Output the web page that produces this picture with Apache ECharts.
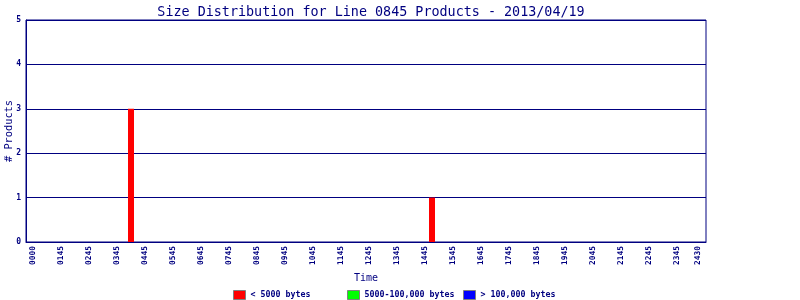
<!DOCTYPE html>
<html>
<head>
<meta charset="utf-8">
<script src="https://cdn.jsdelivr.net/npm/echarts@6/dist/echarts.min.js"></script>
<style>html,body{margin:0;padding:0;background:#fff}#c{width:800px;height:300px}</style>
</head>
<body>
<div id="c"></div>
<script>
// 15-minute bins (0..95) across the day
const titleText = 'Size Distribution for Line 0845 Products - 2013/04/19';
const tickBins = [0,4,8,12,16,20,24,28,32,36,40,44,48,52,56,60,64,68,72,76,80,84,88,92,95];
const tickLabels = ['0000','0145','0245','0345','0445','0545','0645','0745','0845','0945','1045','1145','1245','1345','1445','1545','1645','1745','1845','1945','2045','2145','2245','2345','2430'];
const seriesNames = ['< 5000 bytes','5000-100,000 bytes','> 100,000 bytes'];
const seriesColors = ['#ff0000','#00ff00','#0000ff'];
const smallBins = [14, 57];
const smallCounts = [3, 1];
const mediumBins = [];
const mediumCounts = [];
const largeBins = [];
const largeCounts = [];
const yTicks = [0,1,2,3,4,5];

const navy = '#000080';
const mono = 'DejaVu Sans Mono';
const pairs = (b, c) => b.map((x, i) => [x, c[i]]);
const allData = [pairs(smallBins, smallCounts), pairs(mediumBins, mediumCounts), pairs(largeBins, largeCounts)];
const labelMap = {};
tickBins.forEach((b, i) => labelMap[b] = tickLabels[i]);

const chart = echarts.init(document.getElementById('c'), null, {renderer: 'canvas'});
const legendLefts = [233, 347, 463];
chart.setOption({
  animation: false,
  backgroundColor: '#ffffff',
  title: {
    text: titleText, left: 366, top: 1, textAlign: 'center',
    textStyle: {fontFamily: mono, fontSize: 13.4, fontWeight: 'normal', color: navy}
  },
  legend: seriesNames.map((n, i) => ({
    data: [n], left: legendLefts[i], top: 290, itemWidth: 12, itemHeight: 9, itemGap: 4,
    textStyle: {fontFamily: mono, fontSize: 8.3, fontWeight: 'bold', color: navy},
    itemStyle: {borderColor: '#808080', borderWidth: 1},
    selectedMode: false, padding: 0, icon: 'rect'
  })),
  grid: {left: 26, top: 20, width: 680, height: 222, outerBoundsMode: 'none', containLabel: false,
    show: true, borderColor: navy, borderWidth: 1, backgroundColor: 'transparent'},
  xAxis: {
    type: 'value', min: -1, max: 96.14,
    name: 'Time', nameLocation: 'middle', nameGap: 31, nameMoveOverlap: false,
    nameTextStyle: {fontFamily: mono, fontSize: 10, color: navy, verticalAlign: 'top'},
    axisLine: {show: true, onZero: false, lineStyle: {color: navy, width: 1}},
    axisTick: {show: false},
    splitLine: {show: false},
    axisLabel: {
      customValues: tickBins, rotate: 90, margin: 4,
      fontFamily: mono, fontSize: 7.9, fontWeight: 'bold', color: navy,
      formatter: v => labelMap[v] || ''
    }
  },
  yAxis: {
    type: 'value', min: 0, max: 5, interval: 1,
    name: '# Products', nameLocation: 'middle', nameGap: 12, nameMoveOverlap: false,
    nameTextStyle: {fontFamily: mono, fontSize: 10.3, color: navy},
    axisLine: {show: true, onZero: false, lineStyle: {color: navy, width: 1}},
    axisTick: {show: false},
    splitLine: {show: true, lineStyle: {color: navy, width: 1}},
    axisLabel: {margin: 5, fontFamily: mono, fontSize: 8, fontWeight: 'bold', color: navy,
      formatter: v => yTicks.includes(v) ? String(v) : ''}
  },
  series: seriesNames.map((n, i) => ({
    name: n, type: 'bar', stack: 'all', data: allData[i], barWidth: 6,
    itemStyle: {color: seriesColors[i]},
    emphasis: {disabled: true}
  }))
});
</script>
</body>
</html>
